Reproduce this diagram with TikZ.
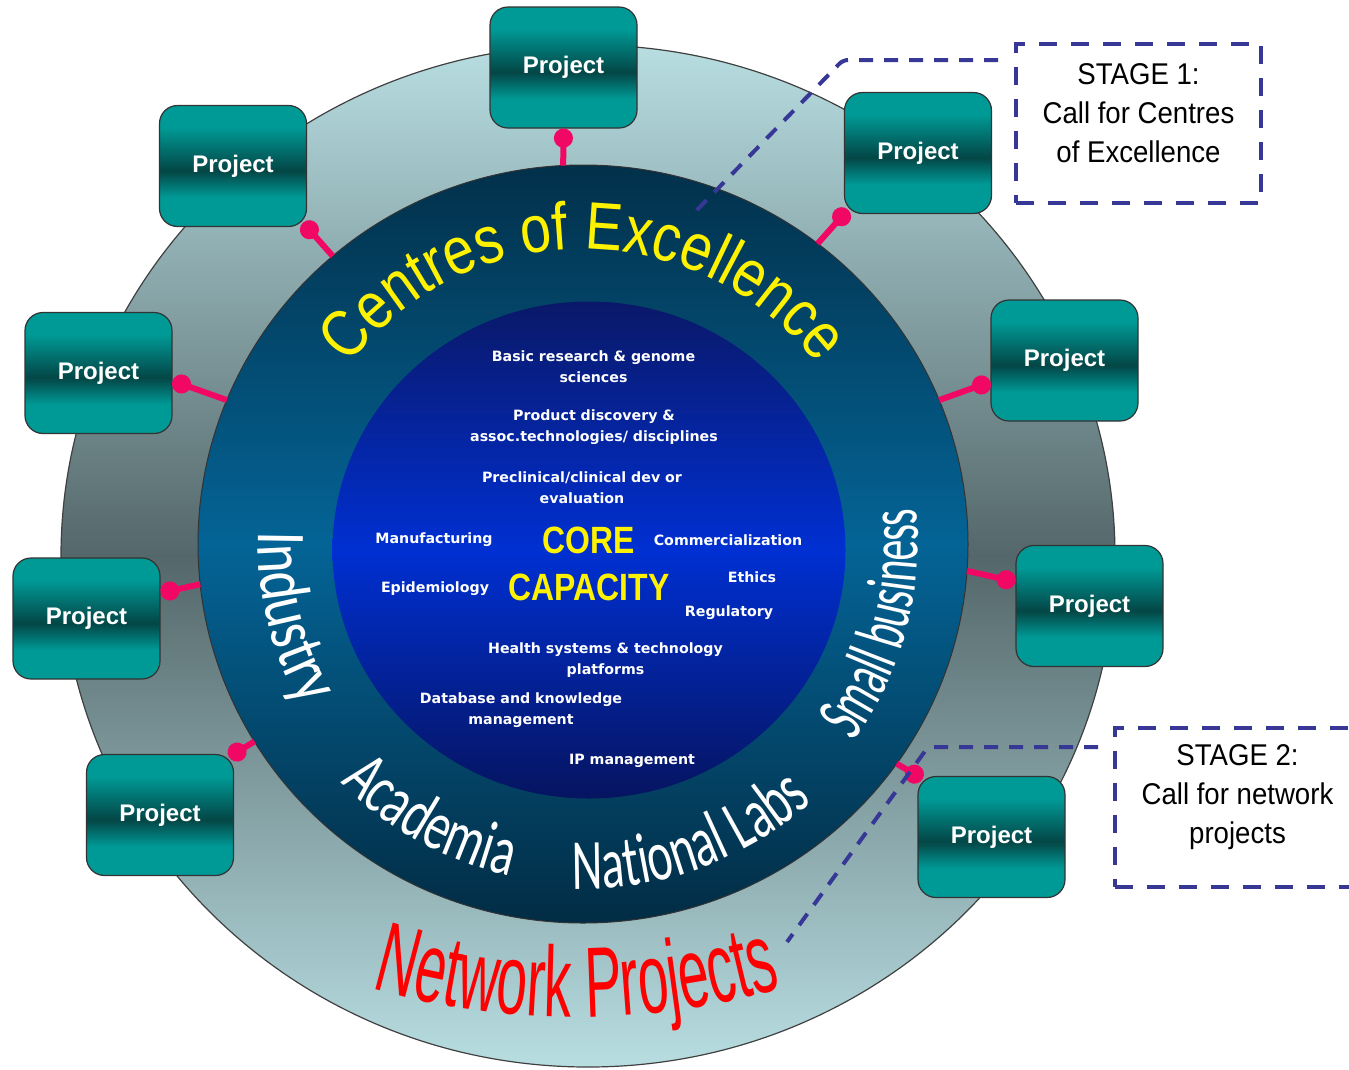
\documentclass[tikz,border=0pt]{standalone}
\usepackage{fontspec}
\setmainfont{Liberation Sans}
\newfontfamily\projfont{Liberation Sans}
\newfontfamily\coefont{Liberation Sans}[FakeStretch=0.83]
\newfontfamily\corefont{Liberation Sans}[FakeStretch=0.84]
\newfontfamily\stagefont{Liberation Sans}[FakeStretch=0.92]
\newfontfamily\netfont{Liberation Sans}[FakeStretch=0.55]
\newfontfamily\itemfont{DejaVu Sans}
\newfontfamily\indfont{Carlito}[FakeStretch=0.78]
\newfontfamily\acafont{Carlito}[FakeStretch=0.7]
\newfontfamily\natfont{Carlito}[FakeStretch=0.66]
\newfontfamily\smbfont{Carlito}[FakeStretch=0.6]
\usetikzlibrary{shapes.geometric,arrows.meta,decorations.text}
\definecolor{ringlt}{RGB}{184,222,226}
\definecolor{ringdk}{RGB}{84,103,106}
\definecolor{coetop}{RGB}{2,48,74}
\definecolor{coemid}{RGB}{4,100,150}
\definecolor{coebot}{RGB}{2,44,68}
\definecolor{hubtop}{RGB}{10,24,104}
\definecolor{hubmid}{RGB}{0,48,210}
\definecolor{hubbot}{RGB}{6,20,96}
\definecolor{projlt}{RGB}{0,154,150}
\definecolor{projdk}{RGB}{3,70,70}
\definecolor{linkpink}{RGB}{240,8,100}
\definecolor{stageblue}{RGB}{55,55,150}
\pgfdeclareverticalshading{projshade}{100bp}{color(0bp)=(projlt); color(37bp)=(projlt); color(48bp)=(projdk); color(66bp)=(projlt); color(100bp)=(projlt)}
\tikzset{
  project/.style={draw=black!80, line width=1.2pt, rounded corners=18pt, shading=projshade,
    minimum width=147pt, minimum height=121pt, text=white,
    font={\projfont\bfseries\fontsize{24}{26}\selectfont}},
  link/.style={linkpink, line width=6pt, -{Circle[length=19pt]}},
  item/.style={text=white, align=center, inner sep=0pt,
    font={\itemfont\bfseries\fontsize{14.2}{21}\selectfont}},
  capword/.style={text=yellow, inner sep=0pt, font={\corefont\bfseries\fontsize{38}{40}\selectfont}},
  ringtext/.style={decorate, decoration={text along path, text align=center}},
  stagebox/.style={draw=stageblue, line width=4pt, dash pattern=on 18pt off 14pt,
    minimum width=245pt, minimum height=159pt},
  stagetext/.style={align=center, font={\stagefont\fontsize{30}{39}\selectfont}},
  callout/.style={stageblue, line width=4pt, dash pattern=on 14pt off 11pt, rounded corners=5pt}
}

\begin{document}
\begin{tikzpicture}[x=1pt,y=1pt]
\useasboundingbox[fill=white] (0,0) rectangle (1349,-1069);
\node[ellipse, minimum width=1054pt, minimum height=1022pt, inner sep=0pt, outer sep=0pt, draw=black!75, line width=1.2pt,
  top color=ringlt, bottom color=ringlt, middle color=ringdk] (ring) at (588,-556) {};
\node[ellipse, minimum width=770pt, minimum height=758pt, inner sep=0pt, outer sep=0pt, draw=black!80, line width=1pt,
  top color=coetop, bottom color=coebot, middle color=coemid] (coe) at (583,-544) {};
\node[ellipse, minimum width=513pt, minimum height=497pt, inner sep=0pt, outer sep=0pt,
  top color=hubtop, bottom color=hubbot, middle color=hubmid] (hub) at (589,-550) {};
\coordinate (npc) at (577,-281);

\path[ringtext, decoration={text color=yellow, text={|\coefont\fontsize{67}{70}\selectfont|Centres of Excellence}}]
  (coe.center) ++(170:295) arc[start angle=170, end angle=10, radius=295];
\path[ringtext, decoration={text color=white, text={|\indfont\fontsize{70}{72}\selectfont|Industry}}]
  (coe.center) ++(159:325) arc[start angle=159, end angle=229, radius=325];
\path[ringtext, decoration={text color=white, text={|\acafont\fontsize{70}{72}\selectfont|Academia}}]
  (coe.center) ++(206:340) arc[start angle=206, end angle=276, radius=340];
\path[ringtext, decoration={text color=white, text={|\natfont\fontsize{72}{74}\selectfont|National Labs}}]
  (coe.center) ++(250:345) arc[start angle=250, end angle=330, radius=345];
\path[ringtext, decoration={text color=white, text={|\smbfont\fontsize{70}{72}\selectfont|Small business}}]
  (coe.center) ++(-65:335) arc[start angle=-65, end angle=35, radius=335];
\path[ringtext, decoration={text color=red, text={|\netfont\fontsize{100}{100}\selectfont|Network Projects}}]
  (npc) ++(250:736) arc[start angle=250, end angle=290, radius=736];

\node[item] (basic) at (593.5,-367) {Basic research \& genome\\sciences};
\node[item] (prod) at (594,-427.5) {Product discovery \&\\assoc.technologies/ disciplines};
\node[item] (precl) at (582,-488) {Preclinical/clinical dev or\\evaluation};
\node[item] (manu) at (434,-540) {Manufacturing};
\node[item] (comm) at (728,-540) {Commercialization};
\node[item] (epid) at (435,-589) {Epidemiology};
\node[item] (ethics) at (752,-577) {Ethics};
\node[item] (regu) at (729,-613) {Regulatory};
\node[item] (health) at (605.5,-660.5) {Health systems \& technology\\platforms};
\node[item] (dbase) at (521,-710) {Database and knowledge\\management};
\node[item] (ipm) at (632,-761) {IP management};
\node[capword] (core) at (589,-540) {CORE};
\node[capword] (capa) at (589,-587) {CAPACITY};

\node[project] (p1) at (563.5,-67.5) {Project};
\node[project] (p2) at (233,-166) {Project};
\node[project] (p3) at (98.5,-373) {Project};
\node[project] (p4) at (86.5,-618.5) {Project};
\node[project] (p5) at (160,-815) {Project};
\node[project] (p6) at (918,-153) {Project};
\node[project] (p7) at (1064.5,-360.5) {Project};
\node[project] (p8) at (1089.5,-606) {Project};
\node[project] (p9) at (991.5,-837) {Project};

\draw[link] (coe.93) -- (p1.south);
\draw[link, shorten >=-6pt] (coe.131) -- (p2.south east);
\draw[link] (coe.158) -- (p3.-6);
\draw[link] (coe.186) -- (p4.19);
\draw[link, shorten >=-6pt] (coe.211) -- (p5.north east);
\draw[link, shorten >=-6pt] (coe.52) -- (p6.south west);
\draw[link] (coe.22) -- (p7.196);
\draw[link] (coe.-4) -- (p8.162);
\draw[link, shorten >=-6pt] (coe.-35) -- (p9.north west);

\node[stagebox] (s1) at (1138.5,-123.5) {};
\node[stagetext] (t1) at ([yshift=10]s1.center) {STAGE 1:\\Call for Centres\\of Excellence};
\node[stagebox] (s2) at (1237.5,-807.5) {};
\node[stagetext] (t2) at ([yshift=10]s2.center) {STAGE 2:\\Call for network\\projects};
\coordinate (c1) at (695,-212);
\coordinate (c2) at (787,-942);
\draw[callout] ([shift={(-16,-18)}]s1.north west) -- ++(-155,0) -- (c1);
\draw[callout] ([shift={(-15,-21)}]s2.north west) -- ++(-170,0) -- (c2);
\end{tikzpicture}
\end{document}
